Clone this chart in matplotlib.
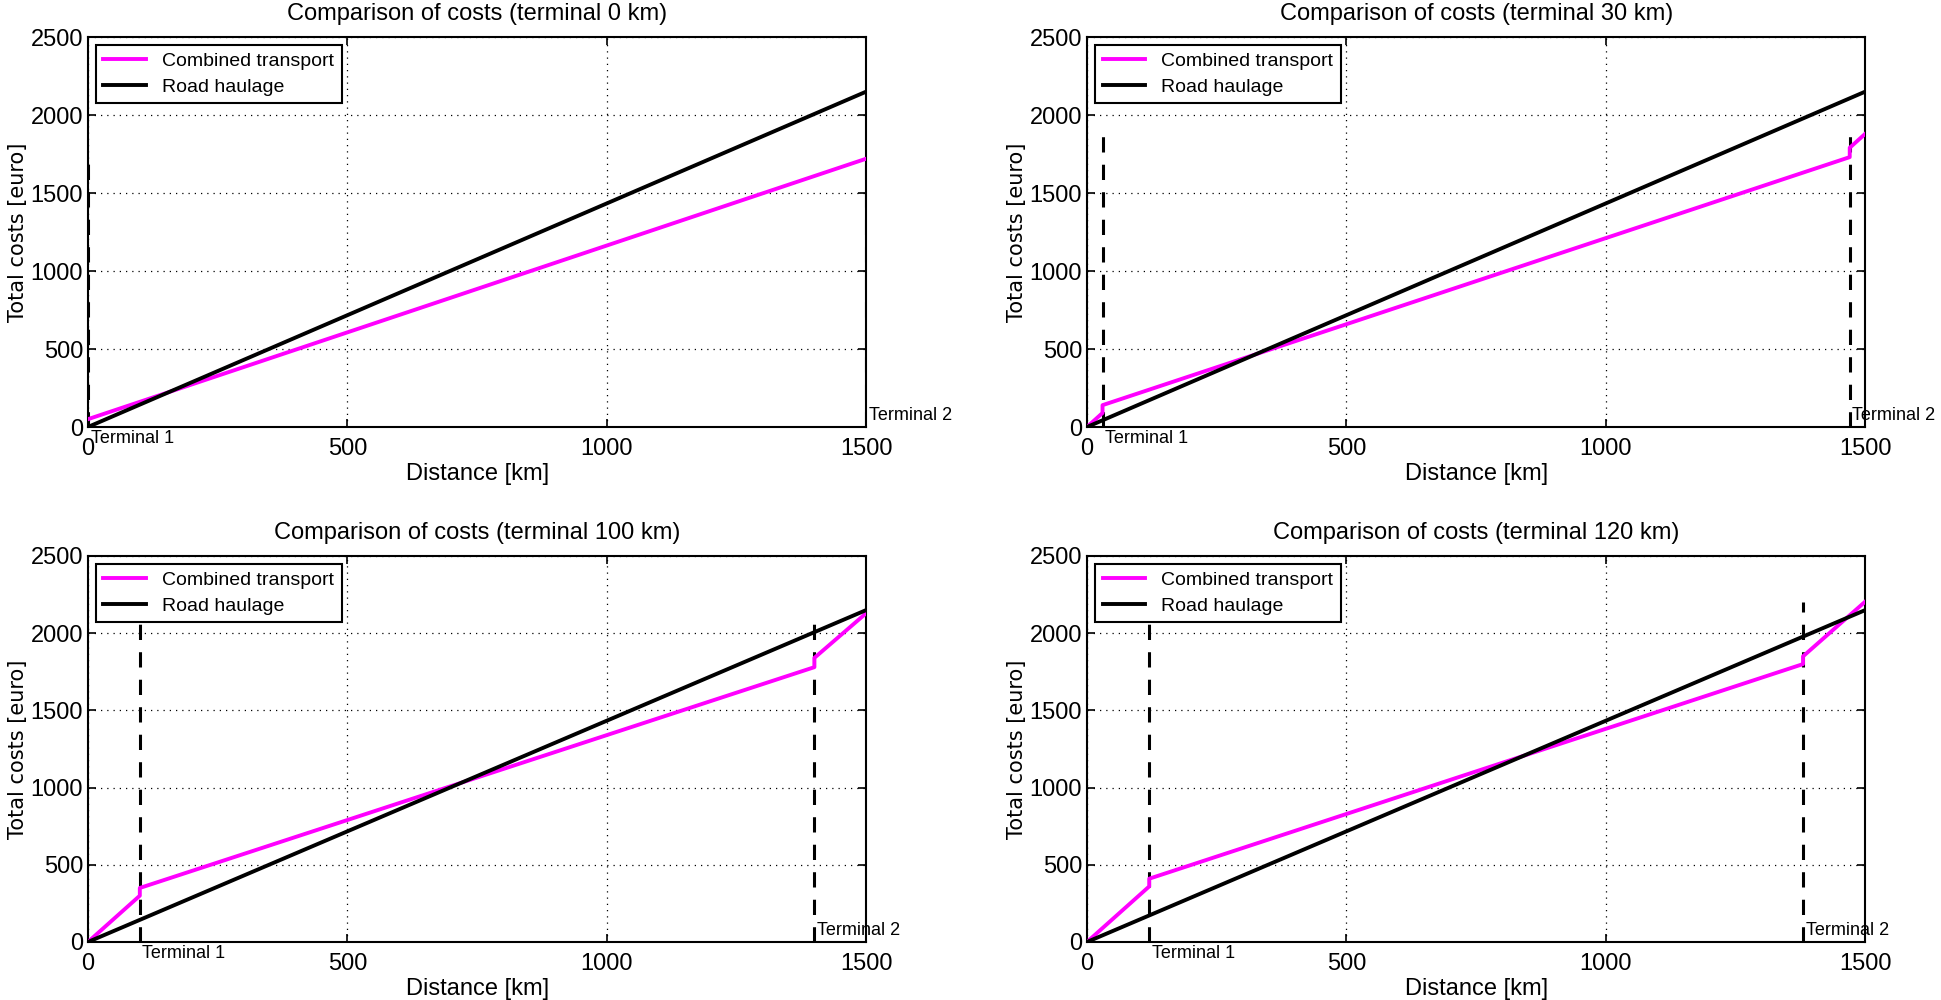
import matplotlib
matplotlib.use("Agg")
import matplotlib.pyplot as plt

# values
terminal_km = [0, 30, 100, 120]
titles = ["Comparison of costs (terminal 0 km)", "Comparison of costs (terminal 30 km)",
          "Comparison of costs (terminal 100 km)", "Comparison of costs (terminal 120 km)"]

road_x = [0, 1500]
road_y = [0, 2150]

comb_x_0 = [0, 1500]
comb_y_0 = [50, 1720]
comb_x_30 = [0, 30, 30, 1470, 1470, 1500]
comb_y_30 = [0, 90, 140, 1730, 1790, 1880]
comb_x_100 = [0, 100, 100, 1400, 1400, 1500]
comb_y_100 = [0, 300, 350, 1780, 1840, 2130]
comb_x_120 = [0, 120, 120, 1380, 1380, 1500]
comb_y_120 = [0, 360, 410, 1800, 1850, 2205]

terminal1_x = [0, 30, 100, 120]
terminal2_x = [1500, 1470, 1400, 1380]
dash_top = [1760, 1880, 2140, 2200]

xticks = [0, 500, 1000, 1500]
yticks = [0, 500, 1000, 1500, 2000, 2500]

comb_x = [comb_x_0, comb_x_30, comb_x_100, comb_x_120]
comb_y = [comb_y_0, comb_y_30, comb_y_100, comb_y_120]

plt.rcParams['font.family'] = ['Liberation Sans Narrow', 'Liberation Sans', 'DejaVu Sans']

fig = plt.figure(figsize=(19.41, 10), dpi=100)
positions = [[0.0453, 0.573, 0.401, 0.39], [0.560, 0.573, 0.401, 0.39],
             [0.0453, 0.058, 0.401, 0.386], [0.560, 0.058, 0.401, 0.386]]

for i in range(4):
    ax = fig.add_axes(positions[i])
    ax.plot(comb_x[i], comb_y[i], color='#ff00ff', lw=2.8, label='Combined transport', zorder=3)
    ax.plot(road_x, road_y, color='black', lw=2.8, label='Road haulage', zorder=3)
    for tx in (terminal1_x[i], terminal2_x[i]):
        ax.plot([tx, tx], [0, dash_top[i]], color='black', lw=2.2, ls=(0, (5, 4)), zorder=2)
    ax.text(terminal1_x[i] + 5, -20, 'Terminal 1', va='top', ha='left', fontsize=13)
    ax.text(terminal2_x[i] + 5, 20, 'Terminal 2', va='bottom', ha='left', fontsize=13)
    ax.set_xlim(0, 1500)
    ax.set_ylim(0, 2500)
    ax.set_xticks(xticks)
    ax.set_yticks(yticks)
    ax.tick_params(direction='in', top=True, right=True, labelsize=17, length=6, width=1.2)
    ax.tick_params(axis='x', pad=8)
    ax.grid(True, color='black', ls=(0, (1, 4)), lw=0.9)
    for s in ax.spines.values():
        s.set_linewidth(1.5)
    ax.set_title(titles[i], fontsize=17, pad=12)
    ax.set_xlabel('Distance [km]', fontsize=17, labelpad=2)
    ax.set_ylabel('Total costs [euro]', fontsize=15, family='DejaVu Sans', labelpad=2)
    leg = ax.legend(loc='upper left', fontsize=14, fancybox=False, framealpha=1,
                    edgecolor='black', handlelength=2.2, borderaxespad=0.4, labelspacing=0.4)
    leg.get_frame().set_linewidth(1.5)

fig.savefig('out.png', dpi=100)
